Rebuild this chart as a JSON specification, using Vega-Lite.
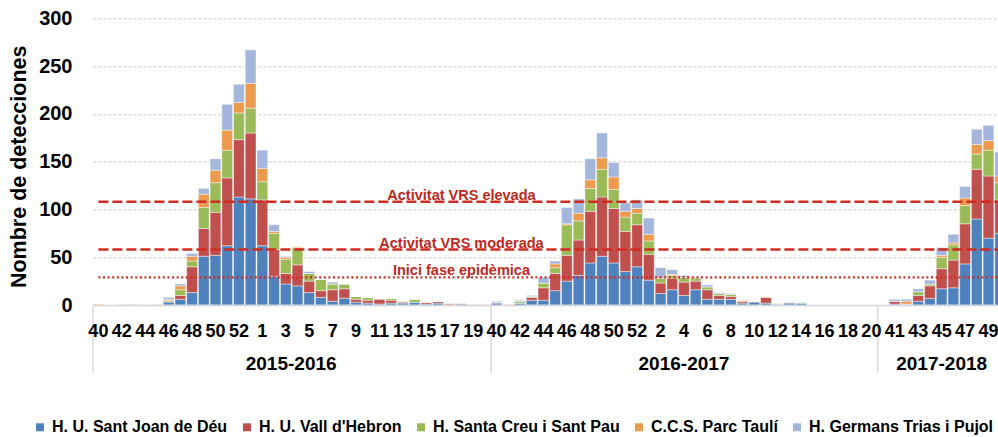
{
  "$schema": "https://vega.github.io/schema/vega-lite/v6.json",
  "autosize": {"type": "none"},
  "width": 912.6,
  "height": 286.7,
  "padding": {"left": 93, "top": 18.3, "right": -7.6, "bottom": 132},
  "background": "white",
  "config": {"view": {"stroke": null}, "font": "Liberation Sans"},
  "datasets": {
    "weeks": [
      {"k": "2015-2016|40", "a_SJD": 0, "b_VH": 0, "c_SP": 0, "d_PT": 1, "e_GT": 0},
      {"k": "2015-2016|41", "a_SJD": 0, "b_VH": 0, "c_SP": 0, "d_PT": 0, "e_GT": 0},
      {"k": "2015-2016|42", "a_SJD": 0, "b_VH": 0, "c_SP": 1, "d_PT": 0, "e_GT": 0},
      {"k": "2015-2016|43", "a_SJD": 0, "b_VH": 1, "c_SP": 0, "d_PT": 0, "e_GT": 0},
      {"k": "2015-2016|44", "a_SJD": 1, "b_VH": 0, "c_SP": 0, "d_PT": 0, "e_GT": 0},
      {"k": "2015-2016|45", "a_SJD": 0, "b_VH": 1, "c_SP": 0, "d_PT": 0, "e_GT": 0},
      {"k": "2015-2016|46", "a_SJD": 3, "b_VH": 1, "c_SP": 1, "d_PT": 1, "e_GT": 2},
      {"k": "2015-2016|47", "a_SJD": 6, "b_VH": 4, "c_SP": 6, "d_PT": 4, "e_GT": 2},
      {"k": "2015-2016|48", "a_SJD": 13, "b_VH": 27, "c_SP": 6, "d_PT": 5, "e_GT": 3},
      {"k": "2015-2016|49", "a_SJD": 51, "b_VH": 29, "c_SP": 22, "d_PT": 14, "e_GT": 6},
      {"k": "2015-2016|50", "a_SJD": 52, "b_VH": 45, "c_SP": 31, "d_PT": 13, "e_GT": 12},
      {"k": "2015-2016|51", "a_SJD": 62, "b_VH": 71, "c_SP": 29, "d_PT": 21, "e_GT": 27},
      {"k": "2015-2016|52", "a_SJD": 113, "b_VH": 60, "c_SP": 28, "d_PT": 11, "e_GT": 19},
      {"k": "2015-2016|53", "a_SJD": 111, "b_VH": 69, "c_SP": 26, "d_PT": 26, "e_GT": 35},
      {"k": "2015-2016|1", "a_SJD": 62, "b_VH": 48, "c_SP": 19, "d_PT": 14, "e_GT": 19},
      {"k": "2015-2016|2", "a_SJD": 30, "b_VH": 28, "c_SP": 17, "d_PT": 2, "e_GT": 7},
      {"k": "2015-2016|3", "a_SJD": 22, "b_VH": 11, "c_SP": 15, "d_PT": 2, "e_GT": 1},
      {"k": "2015-2016|4", "a_SJD": 20, "b_VH": 22, "c_SP": 18, "d_PT": 1, "e_GT": 0},
      {"k": "2015-2016|5", "a_SJD": 13, "b_VH": 12, "c_SP": 8, "d_PT": 0, "e_GT": 2},
      {"k": "2015-2016|6", "a_SJD": 8, "b_VH": 7, "c_SP": 12, "d_PT": 0, "e_GT": 0},
      {"k": "2015-2016|7", "a_SJD": 4, "b_VH": 12, "c_SP": 6, "d_PT": 0, "e_GT": 2},
      {"k": "2015-2016|8", "a_SJD": 7, "b_VH": 10, "c_SP": 5, "d_PT": 0, "e_GT": 0},
      {"k": "2015-2016|9", "a_SJD": 3, "b_VH": 3, "c_SP": 3, "d_PT": 0, "e_GT": 0},
      {"k": "2015-2016|10", "a_SJD": 2, "b_VH": 3, "c_SP": 3, "d_PT": 0, "e_GT": 0},
      {"k": "2015-2016|11", "a_SJD": 1, "b_VH": 5, "c_SP": 1, "d_PT": 0, "e_GT": 0},
      {"k": "2015-2016|12", "a_SJD": 2, "b_VH": 3, "c_SP": 2, "d_PT": 0, "e_GT": 0},
      {"k": "2015-2016|13", "a_SJD": 2, "b_VH": 1, "c_SP": 1, "d_PT": 0, "e_GT": 0},
      {"k": "2015-2016|14", "a_SJD": 3, "b_VH": 0, "c_SP": 3, "d_PT": 0, "e_GT": 0},
      {"k": "2015-2016|15", "a_SJD": 1, "b_VH": 2, "c_SP": 0, "d_PT": 0, "e_GT": 0},
      {"k": "2015-2016|16", "a_SJD": 2, "b_VH": 2, "c_SP": 0, "d_PT": 0, "e_GT": 0},
      {"k": "2015-2016|17", "a_SJD": 0, "b_VH": 1, "c_SP": 1, "d_PT": 0, "e_GT": 0},
      {"k": "2015-2016|18", "a_SJD": 1, "b_VH": 1, "c_SP": 0, "d_PT": 0, "e_GT": 0},
      {"k": "2015-2016|19", "a_SJD": 0, "b_VH": 1, "c_SP": 0, "d_PT": 0, "e_GT": 0},
      {"k": "2015-2016|20", "a_SJD": 0, "b_VH": 1, "c_SP": 0, "d_PT": 0, "e_GT": 0},
      {"k": "2016-2017|40", "a_SJD": 2, "b_VH": 1, "c_SP": 0, "d_PT": 0, "e_GT": 1},
      {"k": "2016-2017|41", "a_SJD": 0, "b_VH": 1, "c_SP": 0, "d_PT": 0, "e_GT": 0},
      {"k": "2016-2017|42", "a_SJD": 2, "b_VH": 0, "c_SP": 2, "d_PT": 0, "e_GT": 1},
      {"k": "2016-2017|43", "a_SJD": 5, "b_VH": 3, "c_SP": 1, "d_PT": 0, "e_GT": 1},
      {"k": "2016-2017|44", "a_SJD": 5, "b_VH": 13, "c_SP": 5, "d_PT": 0, "e_GT": 6},
      {"k": "2016-2017|45", "a_SJD": 15, "b_VH": 18, "c_SP": 6, "d_PT": 4, "e_GT": 3},
      {"k": "2016-2017|46", "a_SJD": 25, "b_VH": 27, "c_SP": 32, "d_PT": 1, "e_GT": 17},
      {"k": "2016-2017|47", "a_SJD": 31, "b_VH": 37, "c_SP": 20, "d_PT": 8, "e_GT": 15},
      {"k": "2016-2017|48", "a_SJD": 44, "b_VH": 54, "c_SP": 24, "d_PT": 9, "e_GT": 22},
      {"k": "2016-2017|49", "a_SJD": 51, "b_VH": 62, "c_SP": 29, "d_PT": 12, "e_GT": 26},
      {"k": "2016-2017|50", "a_SJD": 44, "b_VH": 57, "c_SP": 20, "d_PT": 13, "e_GT": 15},
      {"k": "2016-2017|51", "a_SJD": 35, "b_VH": 42, "c_SP": 15, "d_PT": 6, "e_GT": 9},
      {"k": "2016-2017|52", "a_SJD": 40, "b_VH": 44, "c_SP": 12, "d_PT": 5, "e_GT": 9},
      {"k": "2016-2017|1", "a_SJD": 26, "b_VH": 27, "c_SP": 14, "d_PT": 7, "e_GT": 17},
      {"k": "2016-2017|2", "a_SJD": 12, "b_VH": 11, "c_SP": 5, "d_PT": 0, "e_GT": 11},
      {"k": "2016-2017|3", "a_SJD": 16, "b_VH": 12, "c_SP": 3, "d_PT": 1, "e_GT": 5},
      {"k": "2016-2017|4", "a_SJD": 10, "b_VH": 14, "c_SP": 5, "d_PT": 0, "e_GT": 2},
      {"k": "2016-2017|5", "a_SJD": 16, "b_VH": 9, "c_SP": 3, "d_PT": 1, "e_GT": 0},
      {"k": "2016-2017|6", "a_SJD": 6, "b_VH": 10, "c_SP": 3, "d_PT": 0, "e_GT": 2},
      {"k": "2016-2017|7", "a_SJD": 6, "b_VH": 4, "c_SP": 2, "d_PT": 0, "e_GT": 1},
      {"k": "2016-2017|8", "a_SJD": 6, "b_VH": 3, "c_SP": 2, "d_PT": 0, "e_GT": 1},
      {"k": "2016-2017|9", "a_SJD": 2, "b_VH": 2, "c_SP": 0, "d_PT": 1, "e_GT": 0},
      {"k": "2016-2017|10", "a_SJD": 3, "b_VH": 1, "c_SP": 0, "d_PT": 0, "e_GT": 0},
      {"k": "2016-2017|11", "a_SJD": 2, "b_VH": 6, "c_SP": 0, "d_PT": 1, "e_GT": 0},
      {"k": "2016-2017|12", "a_SJD": 1, "b_VH": 0, "c_SP": 1, "d_PT": 0, "e_GT": 0},
      {"k": "2016-2017|13", "a_SJD": 2, "b_VH": 1, "c_SP": 0, "d_PT": 0, "e_GT": 0},
      {"k": "2016-2017|14", "a_SJD": 2, "b_VH": 0, "c_SP": 1, "d_PT": 0, "e_GT": 0},
      {"k": "2016-2017|15", "a_SJD": 0, "b_VH": 0, "c_SP": 0, "d_PT": 0, "e_GT": 0},
      {"k": "2016-2017|16", "a_SJD": 0, "b_VH": 0, "c_SP": 0, "d_PT": 0, "e_GT": 0},
      {"k": "2016-2017|17", "a_SJD": 0, "b_VH": 0, "c_SP": 0, "d_PT": 0, "e_GT": 0},
      {"k": "2016-2017|18", "a_SJD": 0, "b_VH": 0, "c_SP": 0, "d_PT": 0, "e_GT": 0},
      {"k": "2016-2017|19", "a_SJD": 0, "b_VH": 0, "c_SP": 0, "d_PT": 0, "e_GT": 0},
      {"k": "2016-2017|20", "a_SJD": 0, "b_VH": 0, "c_SP": 0, "d_PT": 0, "e_GT": 0},
      {"k": "2017-2018|40", "a_SJD": 0, "b_VH": 0, "c_SP": 0, "d_PT": 0, "e_GT": 0},
      {"k": "2017-2018|41", "a_SJD": 1, "b_VH": 3, "c_SP": 0, "d_PT": 0, "e_GT": 2},
      {"k": "2017-2018|42", "a_SJD": 1, "b_VH": 0, "c_SP": 0, "d_PT": 3, "e_GT": 2},
      {"k": "2017-2018|43", "a_SJD": 4, "b_VH": 6, "c_SP": 4, "d_PT": 0, "e_GT": 3},
      {"k": "2017-2018|44", "a_SJD": 7, "b_VH": 13, "c_SP": 2, "d_PT": 0, "e_GT": 4},
      {"k": "2017-2018|45", "a_SJD": 17, "b_VH": 21, "c_SP": 12, "d_PT": 2, "e_GT": 8},
      {"k": "2017-2018|46", "a_SJD": 18, "b_VH": 29, "c_SP": 16, "d_PT": 2, "e_GT": 9},
      {"k": "2017-2018|47", "a_SJD": 43, "b_VH": 42, "c_SP": 19, "d_PT": 8, "e_GT": 12},
      {"k": "2017-2018|48", "a_SJD": 90, "b_VH": 52, "c_SP": 16, "d_PT": 10, "e_GT": 16},
      {"k": "2017-2018|49", "a_SJD": 70, "b_VH": 65, "c_SP": 27, "d_PT": 10, "e_GT": 16},
      {"k": "2017-2018|50", "a_SJD": 75, "b_VH": 35, "c_SP": 18, "d_PT": 7, "e_GT": 25}
    ],
    "thresholdsDashed": [
      {"label": "Activitat VRS elevada", "v": 108},
      {"label": "Activitat VRS moderada", "v": 58}
    ],
    "thresholdsDotted": [
      {"label": "Inici fase epidèmica", "v": 29}
    ],
    "thresholdLabels": [
      {"label": "Activitat VRS elevada", "v": 108, "k": "2015-2016|18"},
      {"label": "Activitat VRS moderada", "v": 58, "k": "2015-2016|18"},
      {"label": "Inici fase epidèmica", "v": 29, "k": "2015-2016|18"}
    ],
    "seasonStarts": [
      {"k": "2015-2016|40"},
      {"k": "2016-2017|40"},
      {"k": "2017-2018|40"}
    ],
    "seasonEven": [
      {"season": "2015-2016", "k": "2015-2016|3"}
    ],
    "seasonOdd": [
      {"season": "2016-2017", "k": "2016-2017|4"},
      {"season": "2017-2018", "k": "2017-2018|45"}
    ]
  },
  "encoding": {
    "x": {
      "field": "k",
      "type": "nominal",
      "scale": {
        "domain": [
          "2015-2016|40","2015-2016|41","2015-2016|42","2015-2016|43","2015-2016|44","2015-2016|45","2015-2016|46","2015-2016|47","2015-2016|48","2015-2016|49","2015-2016|50","2015-2016|51","2015-2016|52","2015-2016|53",
          "2015-2016|1","2015-2016|2","2015-2016|3","2015-2016|4","2015-2016|5","2015-2016|6","2015-2016|7","2015-2016|8","2015-2016|9","2015-2016|10","2015-2016|11","2015-2016|12","2015-2016|13","2015-2016|14","2015-2016|15","2015-2016|16","2015-2016|17","2015-2016|18","2015-2016|19","2015-2016|20",
          "2016-2017|40","2016-2017|41","2016-2017|42","2016-2017|43","2016-2017|44","2016-2017|45","2016-2017|46","2016-2017|47","2016-2017|48","2016-2017|49","2016-2017|50","2016-2017|51","2016-2017|52",
          "2016-2017|1","2016-2017|2","2016-2017|3","2016-2017|4","2016-2017|5","2016-2017|6","2016-2017|7","2016-2017|8","2016-2017|9","2016-2017|10","2016-2017|11","2016-2017|12","2016-2017|13","2016-2017|14","2016-2017|15","2016-2017|16","2016-2017|17","2016-2017|18","2016-2017|19","2016-2017|20",
          "2017-2018|40","2017-2018|41","2017-2018|42","2017-2018|43","2017-2018|44","2017-2018|45","2017-2018|46","2017-2018|47","2017-2018|48","2017-2018|49","2017-2018|50"
        ],
        "paddingInner": 0.08,
        "paddingOuter": 0
      },
      "axis": {
        "title": null,
        "values": [
          "2015-2016|40","2015-2016|42","2015-2016|44","2015-2016|46","2015-2016|48","2015-2016|50","2015-2016|52",
          "2015-2016|1","2015-2016|3","2015-2016|5","2015-2016|7","2015-2016|9","2015-2016|11","2015-2016|13","2015-2016|15","2015-2016|17","2015-2016|19",
          "2016-2017|40","2016-2017|42","2016-2017|44","2016-2017|46","2016-2017|48","2016-2017|50","2016-2017|52",
          "2016-2017|2","2016-2017|4","2016-2017|6","2016-2017|8","2016-2017|10","2016-2017|12","2016-2017|14","2016-2017|16","2016-2017|18","2016-2017|20",
          "2017-2018|41","2017-2018|43","2017-2018|45","2017-2018|47","2017-2018|49"
        ],
        "labelExpr": "split(datum.label, '|')[1]",
        "labelAngle": 0,
        "ticks": false,
        "tickSize": 0,
        "labelPadding": 17,
        "labelFont": "Liberation Sans",
        "labelFontSize": 18,
        "labelFontWeight": "bold",
        "labelColor": "#000000",
        "labelOverlap": false,
        "labelBound": false,
        "labelFlush": false,
        "domainColor": "#d9d9d9",
        "domainWidth": 1.5,
        "zindex": 1
      }
    }
  },
  "layer": [
    {
      "data": {"name": "weeks"},
      "transform": [
        {"fold": ["a_SJD", "b_VH", "c_SP", "d_PT", "e_GT"], "as": ["hosp", "n"]}
      ],
      "mark": {"type": "bar", "stroke": "white", "strokeWidth": 0.7, "strokeOpacity": 0.6},
      "encoding": {
        "y": {
          "field": "n",
          "type": "quantitative",
          "stack": "zero",
          "scale": {"domain": [0, 300]},
          "axis": {
            "title": "Nombre de detecciones",
            "values": [0, 50, 100, 150, 200, 250, 300],
            "grid": true,
            "gridColor": "#c8c8c8",
            "gridDash": [3, 2],
            "gridWidth": 1,
            "domain": false,
            "ticks": false,
            "labelFont": "Liberation Sans",
            "labelFontSize": 20,
            "labelFontWeight": "bold",
            "labelColor": "#000000",
            "labelPadding": 21,
            "titleFont": "Liberation Sans",
            "titleFontSize": 21.5,
            "titleFontWeight": "bold",
            "titleColor": "#000000",
            "titlePadding": 8,
            "titleY": 148
          }
        },
        "color": {
          "field": "hosp",
          "type": "nominal",
          "scale": {
            "domain": ["a_SJD", "b_VH", "c_SP", "d_PT", "e_GT"],
            "range": ["#4F81BD", "#C0504D", "#9BBB59", "#EC9A4E", "#A4B6DB"]
          },
          "legend": {
            "title": null,
            "orient": "none",
            "legendX": -61,
            "legendY": 401,
            "direction": "horizontal",
            "columns": 5,
            "symbolType": "square",
            "symbolSize": 64,
            "symbolStrokeWidth": 0,
            "labelFont": "Liberation Sans",
            "labelFontSize": 16,
            "labelFontWeight": "bold",
            "labelColor": "#000000",
            "labelOffset": 4,
            "labelLimit": 400,
            "columnPadding": 11,
            "labelExpr": "{'a_SJD': 'H. U. Sant Joan de Déu', 'b_VH': \"H. U. Vall d'Hebron\", 'c_SP': 'H. Santa Creu i Sant Pau', 'd_PT': 'C.C.S. Parc Taulí', 'e_GT': 'H. Germans Trias i Pujol'}[datum.label]"
          }
        },
        "order": {"field": "hosp", "sort": "ascending"}
      }
    },
    {
      "data": {"name": "thresholdsDashed"},
      "mark": {"type": "rule", "color": "#D22B1F", "strokeWidth": 2.5, "strokeDash": [10, 4]},
      "encoding": {
        "x": {"datum": "2015-2016|40"},
        "x2": {"datum": "2017-2018|50"},
        "y": {"field": "v", "type": "quantitative"}
      }
    },
    {
      "data": {"name": "thresholdsDotted"},
      "mark": {"type": "rule", "color": "#D22B1F", "strokeWidth": 2.2, "strokeDash": [2, 2.6]},
      "encoding": {
        "x": {"datum": "2015-2016|40"},
        "x2": {"datum": "2017-2018|50"},
        "y": {"field": "v", "type": "quantitative"}
      }
    },
    {
      "data": {"name": "thresholdLabels"},
      "mark": {"type": "text", "font": "Liberation Sans", "fontSize": 14.5, "fontWeight": "bold", "color": "#C0281E", "align": "center", "baseline": "alphabetic", "dy": -2},
      "encoding": {
        "y": {"field": "v", "type": "quantitative"},
        "text": {"field": "label"}
      }
    },
    {
      "data": {"name": "seasonStarts"},
      "mark": {"type": "rule", "color": "#d9d9d9", "strokeWidth": 1.5},
      "encoding": {
        "x": {"field": "k", "type": "nominal", "bandPosition": 0},
        "y": {"datum": 0},
        "y2": {"datum": -71}
      }
    },
    {
      "data": {"name": "seasonEven"},
      "mark": {"type": "text", "font": "Liberation Sans", "fontSize": 19, "fontWeight": "bold", "color": "#000000", "baseline": "middle", "dy": 58.7},
      "encoding": {
        "x": {"field": "k", "type": "nominal", "bandPosition": 1},
        "y": {"datum": 0},
        "text": {"field": "season"}
      }
    },
    {
      "data": {"name": "seasonOdd"},
      "mark": {"type": "text", "font": "Liberation Sans", "fontSize": 19, "fontWeight": "bold", "color": "#000000", "baseline": "middle", "dy": 58.7},
      "encoding": {
        "x": {"field": "k", "type": "nominal", "bandPosition": 0.5},
        "y": {"datum": 0},
        "text": {"field": "season"}
      }
    }
  ]
}
